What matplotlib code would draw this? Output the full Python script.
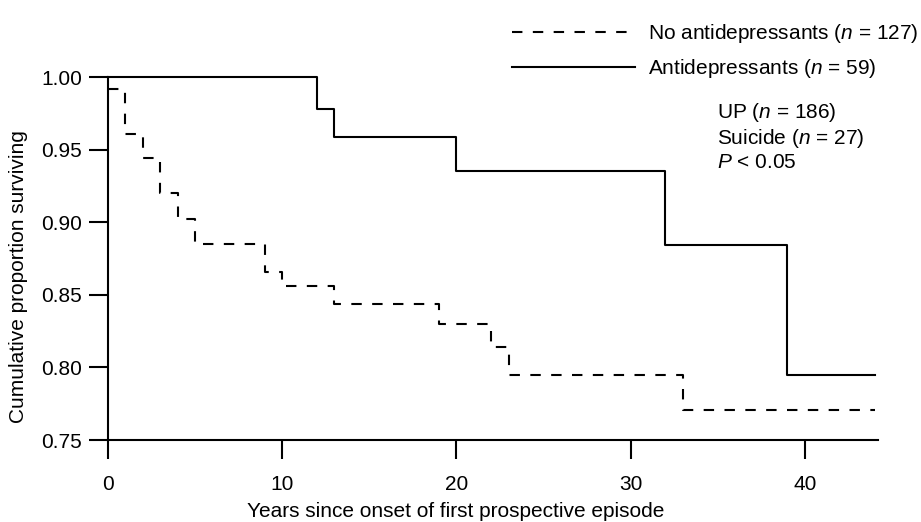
import matplotlib
matplotlib.use("Agg")
import matplotlib.pyplot as plt

# Kaplan-Meier steps (years, cumulative proportion)
anti_years = [0, 12, 13, 20, 32, 39, 44]
anti_surv = [1.0, 0.978, 0.959, 0.935, 0.884, 0.795, 0.795]

no_anti_years = [0, 1, 2, 3, 4, 5, 9, 10, 13, 19, 22, 23, 33, 44]
no_anti_surv = [0.992, 0.961, 0.944, 0.920, 0.902, 0.885, 0.866, 0.856,
                0.844, 0.830, 0.814, 0.795, 0.771, 0.771]

x_ticks = [0, 10, 20, 30, 40]
y_ticks = [0.75, 0.80, 0.85, 0.90, 0.95, 1.00]


def main():
    plt.rcParams["font.family"] = ["Liberation Sans", "DejaVu Sans"]
    plt.rcParams["mathtext.fontset"] = "custom"
    plt.rcParams["mathtext.it"] = "Liberation Sans:italic"
    plt.rcParams["mathtext.rm"] = "Liberation Sans"

    fig = plt.figure(figsize=(9.21, 5.22), dpi=100)
    ax = fig.add_axes([0.1173, 0.157, 0.836, 0.6954])

    l1, = ax.step(no_anti_years, no_anti_surv, where="post", color="black",
                  lw=1.5, linestyle=(0, (5, 5)), clip_on=False)
    l2, = ax.step(anti_years, anti_surv, where="post", color="black",
                  lw=1.5, clip_on=False)

    ax.set_xlim(0, 44.2)
    ax.set_ylim(0.75, 1.0)
    ax.set_xticks(x_ticks)
    ax.set_yticks(y_ticks)
    ax.set_yticklabels(["%.2f" % v for v in y_ticks])

    for side in ["top", "right"]:
        ax.spines[side].set_visible(False)
    for side in ["left", "bottom"]:
        ax.spines[side].set_linewidth(1.5)
    ax.tick_params(direction="out", length=13.5, width=1.5, labelsize=15)
    ax.tick_params(axis="y", pad=5)
    ax.tick_params(axis="x", pad=12)

    ax.set_xlabel("Years since onset of first prospective episode", fontsize=15, va="top")
    ax.set_ylabel("Cumulative proportion surviving", fontsize=15)
    ax.xaxis.set_label_coords(0.452, -0.172)
    ax.yaxis.set_label_coords(-0.104, 0.45)

    fig.legend([l1, l2], ["No antidepressants ($n$ = 127)", "Antidepressants ($n$ = 59)"],
               loc="upper right", bbox_to_anchor=(1.006, 0.974), frameon=False,
               fontsize=15, handlelength=5.9, handletextpad=0.6, labelspacing=0.6,
               borderaxespad=0)

    fig.text(0.779, 0.8065, "UP ($n$ = 186)\nSuicide ($n$ = 27)\n$P$ < 0.05",
             fontsize=15, va="top", ha="left", linespacing=1.2)

    fig.savefig("out.png", dpi=100)


if __name__ == '__main__':
    main()
